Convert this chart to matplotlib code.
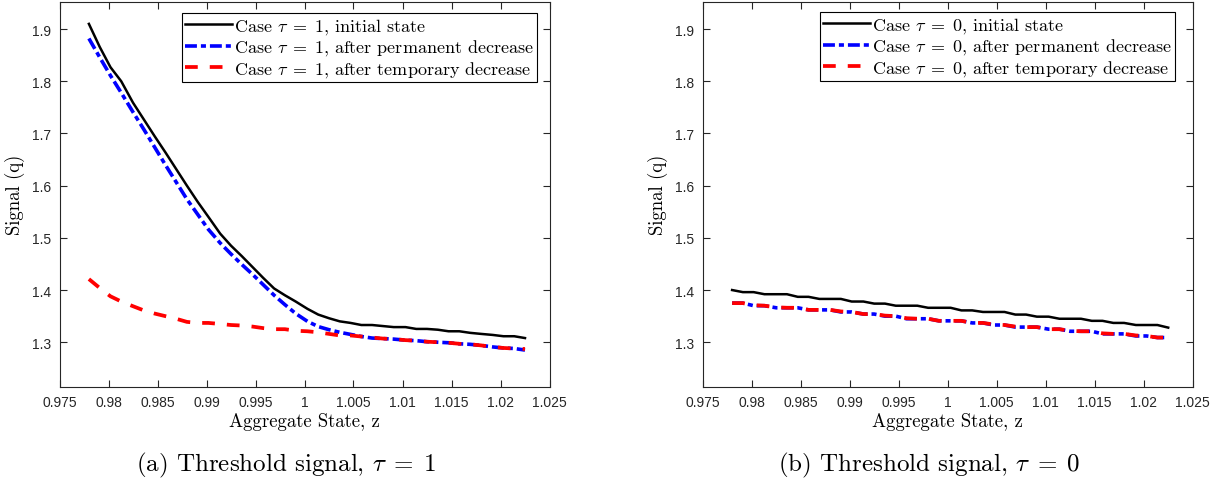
import matplotlib
matplotlib.use("Agg")
import matplotlib.pyplot as plt

plt.rcParams['mathtext.fontset'] = 'cm'
plt.rcParams['axes.unicode_minus'] = False

# aggregate state grid
z = [0.9780, 0.9791, 0.9802, 0.9813, 0.9825, 0.9836, 0.9847, 0.9858, 0.9869, 0.9880,
     0.9891, 0.9902, 0.9914, 0.9925, 0.9936, 0.9947, 0.9958, 0.9969, 0.9980, 0.9991,
     1.0003, 1.0014, 1.0025, 1.0036, 1.0047, 1.0058, 1.0069, 1.0080, 1.0091, 1.0103,
     1.0114, 1.0125, 1.0136, 1.0147, 1.0158, 1.0169, 1.0180, 1.0192, 1.0203, 1.0214,
     1.0225]

# tau = 1
t1_initial = [1.910, 1.866, 1.827, 1.800, 1.759, 1.727, 1.695, 1.664, 1.632, 1.600,
              1.569, 1.540, 1.508, 1.485, 1.465, 1.444, 1.423, 1.403, 1.390, 1.378,
              1.364, 1.353, 1.346, 1.340, 1.337, 1.333, 1.333, 1.331, 1.329, 1.329,
              1.3255, 1.3255, 1.324, 1.321, 1.321, 1.318, 1.316, 1.314, 1.3115, 1.3115,
              1.308]
t1_permanent = [1.882, 1.846, 1.811, 1.778, 1.741, 1.708, 1.674, 1.640, 1.607, 1.574,
                1.545, 1.516, 1.490, 1.469, 1.449, 1.430, 1.410, 1.390, 1.372, 1.355,
                1.340, 1.330, 1.324, 1.319, 1.315, 1.311, 1.308, 1.307, 1.306, 1.304,
                1.303, 1.301, 1.300, 1.299, 1.297, 1.296, 1.294, 1.291, 1.289, 1.288,
                1.285]
t1_temporary = [1.421, 1.404, 1.388, 1.378, 1.369, 1.361, 1.355, 1.350, 1.345, 1.339,
                1.337, 1.337, 1.335, 1.333, 1.332, 1.330, 1.327, 1.325, 1.325, 1.322,
                1.321, 1.319, 1.316, 1.313, 1.313, 1.311, 1.309, 1.307, 1.306, 1.304,
                1.303, 1.301, 1.300, 1.299, 1.297, 1.296, 1.294, 1.291, 1.289, 1.288,
                1.287]

# tau = 0
t0_initial = [1.400, 1.396, 1.396, 1.392, 1.392, 1.392, 1.387, 1.387, 1.383, 1.383,
              1.383, 1.378, 1.378, 1.374, 1.374, 1.370, 1.370, 1.370, 1.366, 1.366,
              1.366, 1.361, 1.361, 1.358, 1.358, 1.358, 1.353, 1.353, 1.349, 1.349,
              1.345, 1.345, 1.345, 1.341, 1.341, 1.337, 1.337, 1.333, 1.333, 1.333,
              1.328]
t0_permanent = [1.375, 1.375, 1.370, 1.370, 1.366, 1.366, 1.366, 1.362, 1.362, 1.362,
                1.358, 1.358, 1.354, 1.354, 1.350, 1.350, 1.345, 1.345, 1.345, 1.341,
                1.341, 1.341, 1.337, 1.337, 1.333, 1.333, 1.329, 1.329, 1.329, 1.325,
                1.325, 1.321, 1.321, 1.321, 1.316, 1.316, 1.316, 1.312, 1.312, 1.309,
                1.309]
t0_temporary = [1.375, 1.375, 1.371, 1.370, 1.367, 1.366, 1.366, 1.362, 1.362, 1.362,
                1.359, 1.358, 1.354, 1.354, 1.351, 1.350, 1.346, 1.345, 1.345, 1.341,
                1.341, 1.341, 1.337, 1.337, 1.334, 1.333, 1.330, 1.329, 1.329, 1.325,
                1.325, 1.322, 1.321, 1.321, 1.317, 1.316, 1.316, 1.313, 1.312, 1.309,
                1.309]

xticks = [0.975, 0.98, 0.985, 0.99, 0.995, 1.0, 1.005, 1.01, 1.015, 1.02, 1.025]
xticklabels = ['0.975', '0.98', '0.985', '0.99', '0.995', '1', '1.005', '1.01', '1.015', '1.02', '1.025']
yticks = [1.3, 1.4, 1.5, 1.6, 1.7, 1.8, 1.9]

panels = [
    ('1', t1_initial, t1_permanent, t1_temporary, '(a) Threshold signal, $\\tau \\;=\\; 1$'),
    ('0', t0_initial, t0_permanent, t0_temporary, '(b) Threshold signal, $\\tau \\;=\\; 0$'),
]

W, H = 1223, 485
fig = plt.figure(figsize=(W / 100, H / 100), dpi=100)
lefts = [59.5, 702.7]
legend_anchor = [(537 / W, 1 - 14 / H), (1175 / W, 1 - 13 / H)]
caption_x = [286, 929.5]
serif = 'cmr10'
axcol = '#262626'

for i, (tau, ini, perm, temp, caption) in enumerate(panels):
    ax = fig.add_axes([lefts[i] / W, 1 - 387.7 / H, 490 / W, 385 / H])
    ax.plot(z, ini, color='black', lw=1.8, label='Case $\\tau \\;=\\; %s$, initial state' % tau)
    ax.plot(z, perm, color='blue', lw=2.6, dashes=(3.3, 1.1, 1.4, 1.1),
            label='Case $\\tau \\;=\\; %s$, after permanent decrease' % tau)
    ax.plot(z, temp, color='red', lw=2.7, dashes=(3.4, 3.2),
            label='Case $\\tau \\;=\\; %s$, after temporary decrease' % tau)

    ax.set_xlim(0.975, 1.025)
    ax.set_ylim(1.2148, 1.9525)
    ax.set_xticks(xticks)
    ax.set_xticklabels(xticklabels)
    ax.set_yticks(yticks)
    ax.tick_params(direction='in', top=True, right=True, length=5, width=0.8,
                   colors=axcol, labelsize=10, pad=6)
    for lab in ax.get_xticklabels() + ax.get_yticklabels():
        lab.set_fontfamily('Liberation Sans')
    for s in ax.spines.values():
        s.set_color(axcol)
        s.set_linewidth(0.8)

    ax.set_xlabel('Aggregate State, z', fontfamily=serif, fontsize=13.5, labelpad=2)
    ax.set_ylabel('Signal (q)', fontfamily=serif, fontsize=13.5, labelpad=5)

    leg = ax.legend(loc='upper right', bbox_to_anchor=legend_anchor[i],
                    bbox_transform=fig.transFigure, prop={'family': serif, 'size': 13},
                    handlelength=2.6, handletextpad=0.15, borderpad=0.15,
                    labelspacing=0.1, borderaxespad=0, fancybox=False, framealpha=1)
    leg.get_frame().set_edgecolor('black')
    leg.get_frame().set_linewidth(0.8)

    fig.text(caption_x[i] / W, 1 - 465 / H, caption, ha='center', va='center',
             fontfamily=serif, fontsize=18)

fig.savefig('out.png', dpi=100)
